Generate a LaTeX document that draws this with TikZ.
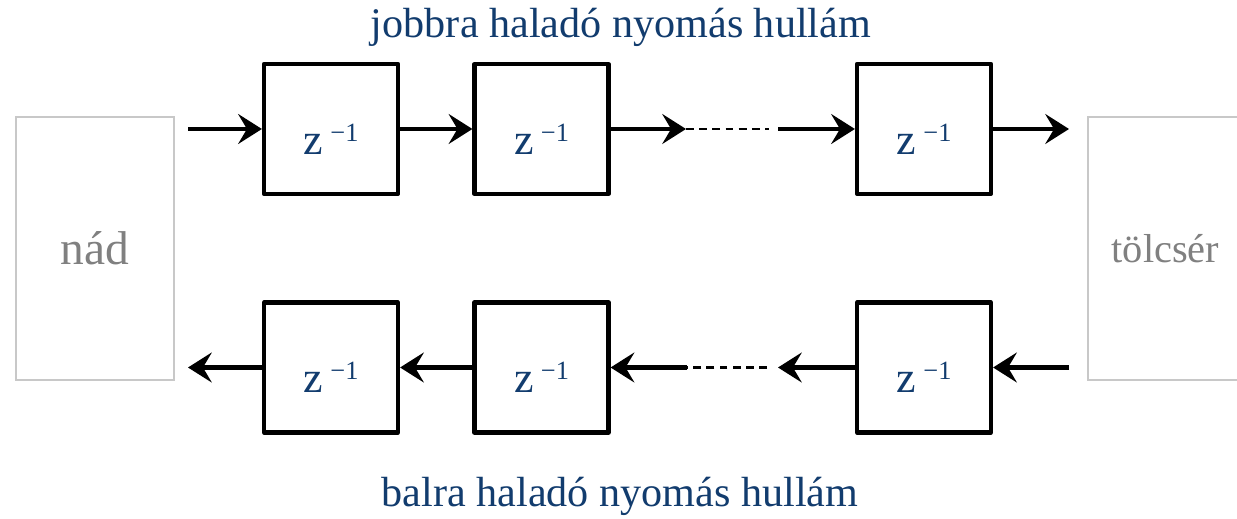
\documentclass[tikz,border=0pt]{standalone}
\usepackage{fontspec}
\setmainfont{Liberation Serif}
\usetikzlibrary{arrows.meta}
\definecolor{wave}{HTML}{123C6E}
\definecolor{endgray}{HTML}{C8C8C8}
\definecolor{endtext}{HTML}{808080}
\newcommand{\zdelay}{z\,\raisebox{7.5pt}{\fontsize{15}{15}\selectfont −1}}
\tikzset{
  delay/.style={draw=black, line width=2.4pt, line join=round, minimum width=2.68cm,
    minimum height=2.6cm, inner sep=0pt, text=wave, font=\fontsize{25}{25}\selectfont,
    text height=29pt, text depth=0pt},
  endbox/.style={draw=endgray, line width=0.8pt, inner sep=0pt, text=endtext},
  flow/.style={line width=2.4pt, -{Stealth[length=13.5pt, width=17pt, inset=5pt]}},
  gap/.style={line width=1.2pt, dash pattern=on 4.5pt off 3pt},
  caption/.style={text=wave, font=\fontsize{24}{24}\selectfont, inner sep=0pt}
}
\begin{document}
\begin{tikzpicture}[x=0.02cm, y=-0.02cm]
  \clip (0,0) rectangle (1237,519);
  \fill[white] (0,0) rectangle (1237,519);

  % reed and bell ends
  \node[endbox, minimum width=3.16cm, minimum height=5.26cm,
        font=\fontsize{27}{27}\selectfont] (nad) at (95,248.5) {nád};
  \node[endbox, minimum width=3.1cm, minimum height=5.26cm,
        font=\fontsize{23}{23}\selectfont] (tolcser) at (1165.5,248.5) {tölcsér};

  % delay line, rightward travelling wave
  \node[delay] (t1) at (331,129) {\zdelay};
  \node[delay] (t2) at (541.5,129) {\zdelay};
  \node[delay] (t3) at (924,129) {\zdelay};

  % delay line, leftward travelling wave
  \node[delay] (b1) at (331,367.5) {\zdelay};
  \node[delay] (b2) at (541.5,367.5) {\zdelay};
  \node[delay] (b3) at (924,367.5) {\zdelay};

  % free ends of the connectors
  \coordinate (tin) at (188,129);
  \coordinate (tout) at (1069,129);
  \coordinate (tg1) at (686,129);
  \coordinate (tg2) at (769,129);
  \coordinate (tg3) at (778,129);
  \coordinate (bin) at (1069,367.5);
  \coordinate (bout) at (188,367.5);
  \coordinate (bg1) at (778,367.5);
  \coordinate (bg2) at (767,367.5);
  \coordinate (bg3) at (687,367.5);

  % upper chain
  \draw[flow] (tin) -- (t1.west);
  \draw[flow] (t1.east) -- (t2.west);
  \draw[flow] (t2.east) -- (tg1);
  \draw[gap] (tg1) -- (tg2);
  \draw[flow] (tg3) -- (t3.west);
  \draw[flow] (t3.east) -- (tout);

  % lower chain
  \draw[flow] (bin) -- (b3.east);
  \draw[flow] (b3.west) -- (bg1);
  \draw[gap] (bg2) -- (bg3);
  \draw[flow] (bg3) -- (b2.east);
  \draw[flow] (b2.west) -- (b1.east);
  \draw[flow] (b1.west) -- (bout);

  % captions
  \node[caption] (top) at (621,27) {jobbra haladó nyomás hullám};
  \node[caption] (bottom) at (620,496) {balra haladó nyomás hullám};
\end{tikzpicture}
\end{document}
